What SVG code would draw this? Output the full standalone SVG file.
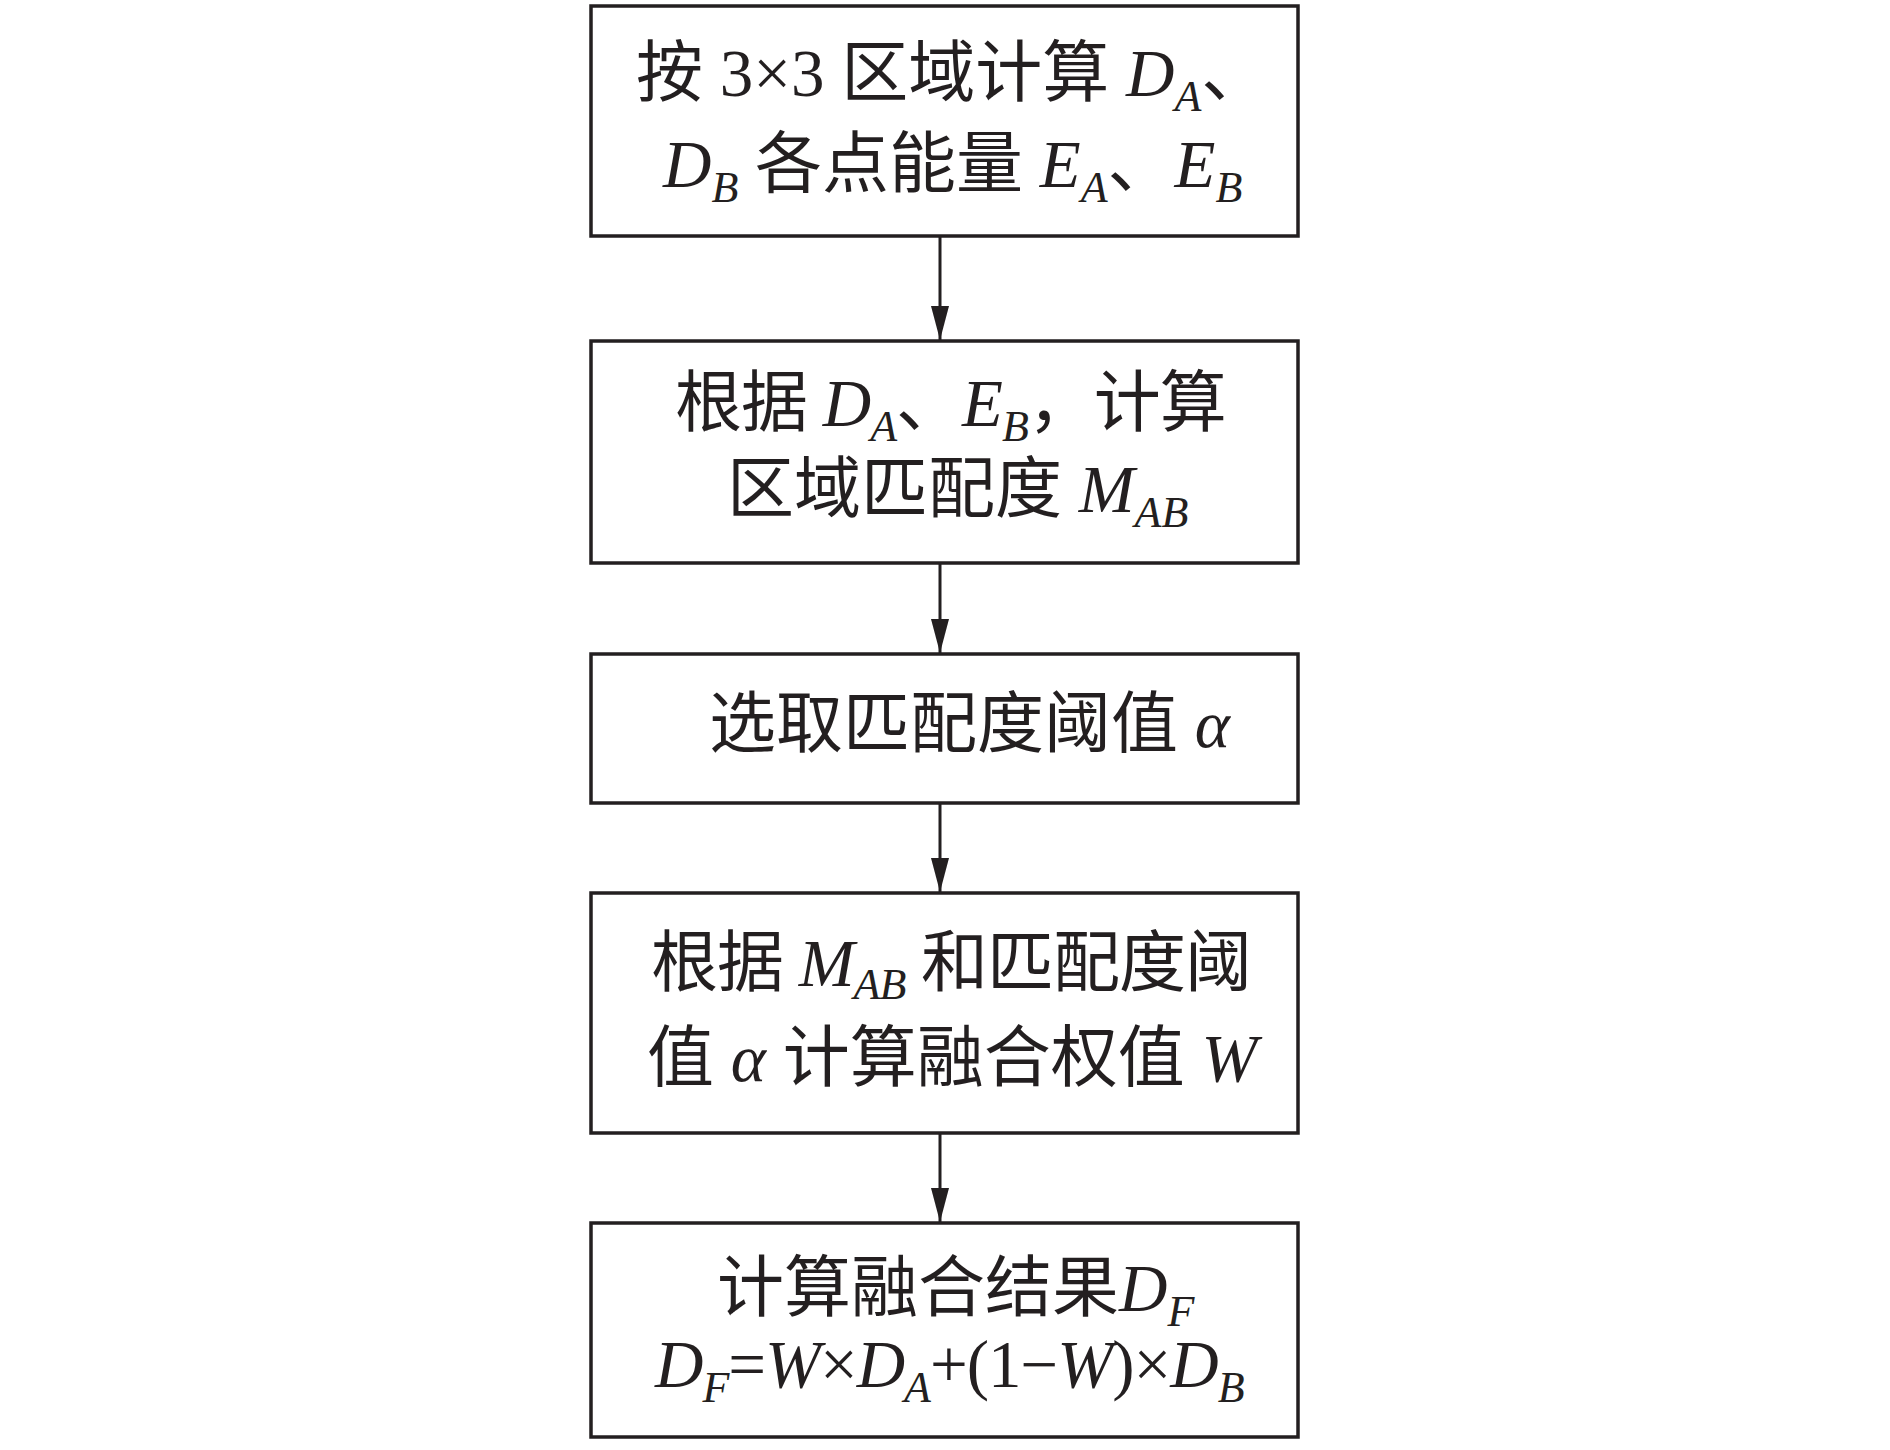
<svg xmlns="http://www.w3.org/2000/svg" width="1890" height="1450" viewBox="0 0 1890 1450">
<style>
.box{fill:#fff;stroke:#231f20;stroke-width:3.5}
.t{font-family:"Liberation Serif","Noto Sans CJK SC",serif;font-size:67px;fill:#231f20}
.i{font-style:italic}
.s{font-size:44px}
.c{stroke:#231f20;stroke-width:3;fill:none}
</style>
<defs>
<marker id="ah" viewBox="0 0 34 18" refX="34" refY="9" markerWidth="34" markerHeight="18" markerUnits="userSpaceOnUse" orient="auto">
<path d="M0,0 L34,9 L0,18 Z" fill="#231f20"/>
</marker>
</defs>
<rect width="1890" height="1450" fill="#fff"/>
<g id="connectors">
<line class="c" x1="940" y1="236" x2="940" y2="340" marker-end="url(#ah)"/>
<line class="c" x1="940" y1="563" x2="940" y2="653" marker-end="url(#ah)"/>
<line class="c" x1="940" y1="803" x2="940" y2="892" marker-end="url(#ah)"/>
<line class="c" x1="940" y1="1133" x2="940" y2="1222" marker-end="url(#ah)"/>
</g>
<g id="n1">
<rect class="box" x="591" y="6" width="707" height="230"/>
<text class="t" x="636" y="96" xml:space="preserve">按 3×3 区域计算 <tspan class="i">D</tspan><tspan class="i s" dy="15">A</tspan><tspan dy="-15">、</tspan></text>
<text class="t" x="663" y="187" xml:space="preserve"><tspan class="i">D</tspan><tspan class="i s" dy="15">B</tspan><tspan dy="-15"> 各点能量 </tspan><tspan class="i">E</tspan><tspan class="i s" dy="15">A</tspan><tspan dy="-15">、</tspan><tspan class="i">E</tspan><tspan class="i s" dy="15">B</tspan></text>
</g>
<g id="n2">
<rect class="box" x="591" y="341" width="707" height="222"/>
<text class="t" x="675" y="426" letter-spacing="-1" xml:space="preserve">根据 <tspan class="i">D</tspan><tspan class="i s" dy="15">A</tspan><tspan dy="-15">、</tspan><tspan class="i">E</tspan><tspan class="i s" dy="15">B</tspan><tspan dy="-15">，计算</tspan></text>
<text class="t" x="727" y="512" xml:space="preserve">区域匹配度 <tspan class="i">M</tspan><tspan class="i s" dy="15">AB</tspan></text>
</g>
<g id="n3">
<rect class="box" x="591" y="654" width="707" height="149"/>
<text class="t" x="709" y="747" xml:space="preserve">选取匹配度阈值 <tspan class="i">α</tspan></text>
</g>
<g id="n4">
<rect class="box" x="591" y="893" width="707" height="240"/>
<text class="t" x="651" y="986" letter-spacing="-1" xml:space="preserve">根据 <tspan class="i">M</tspan><tspan class="i s" dy="13">AB</tspan><tspan dy="-13"> 和匹配度阈</tspan></text>
<text class="t" x="647" y="1081" xml:space="preserve">值 <tspan class="i">α</tspan> 计算融合权值 <tspan class="i">W</tspan></text>
</g>
<g id="n5">
<rect class="box" x="591" y="1223" width="707" height="214"/>
<text class="t" x="717" y="1311" xml:space="preserve">计算融合结果<tspan class="i">D</tspan><tspan class="i s" dy="15">F</tspan></text>
<text class="t" x="655" y="1387" letter-spacing="-1" xml:space="preserve"><tspan class="i">D</tspan><tspan class="i s" dy="15">F</tspan><tspan dy="-15">=</tspan><tspan class="i">W</tspan><tspan>×</tspan><tspan class="i">D</tspan><tspan class="i s" dy="15">A</tspan><tspan dy="-15">+(1−</tspan><tspan class="i">W</tspan><tspan>)×</tspan><tspan class="i">D</tspan><tspan class="i s" dy="15">B</tspan></text>
</g>
</svg>
